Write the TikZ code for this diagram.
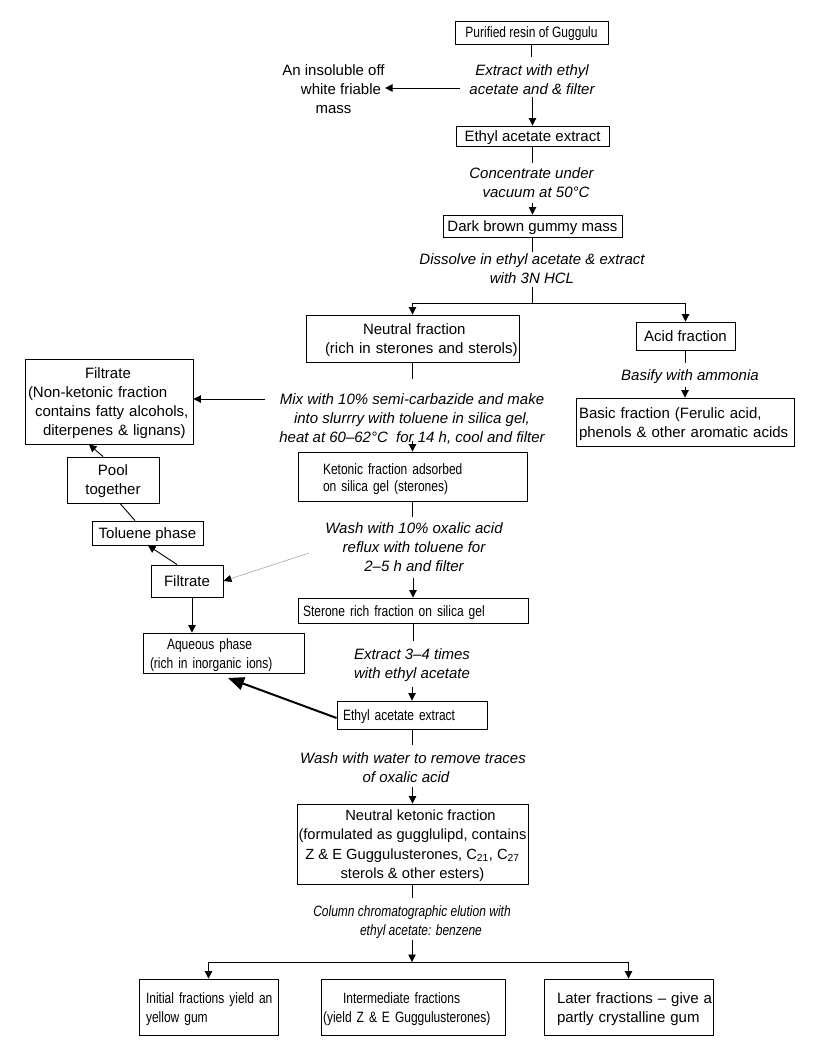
\documentclass[tikz,border=0pt]{standalone}
\usepackage{fontspec}
\setmainfont{Liberation Sans}
\newfontfamily\narrowfont{Liberation Sans}[FakeStretch=0.80]
\usetikzlibrary{arrows.meta}
\newcommand\fs{\fontsize{15}{19}\selectfont}
\newcommand\ind[1]{\hspace*{#1pt}}
\newcommand\tp{\rule{0pt}{15pt}}
\begin{document}
\begin{tikzpicture}[x=1pt,y=-1pt,
  line width=0.9pt,
  arr/.style={-{Triangle[length=7.5pt,width=7.5pt]}},
  bx/.style={draw, inner sep=0pt, font=\fs, align=center, text depth=0pt},
  nbx/.style={bx, font=\fs\narrowfont},
  lbx/.style={draw, inner sep=0pt, font=\fs, align=left},
  nlbx/.style={lbx, font=\fs\narrowfont},
  lbl/.style={inner sep=0pt, align=center, font=\fs\itshape, text depth=0pt},
  nlbl/.style={lbl, font=\fs\narrowfont\itshape},
  txt/.style={inner sep=0pt, align=center, font=\fs, text depth=0pt}
]
\useasboundingbox (0,0) rectangle (823,1052);

% ---- nodes ----
\node[nbx, minimum width=153pt, minimum height=23pt] (res) at (531.5,32.5) {Purified resin of Guggulu};
\node[lbl] (l1) at (532,79.5) {Extract with ethyl\\acetate and \& filter};
\node[txt] (ins) at (333.5,89) {An insoluble off\\\ind{15}white friable\\mass};
\node[bx, minimum width=153pt, minimum height=20pt] (eae1) at (532.5,136) {Ethyl acetate extract};
\node[lbl] (l2) at (531.5,183) {Concentrate under\\\ind{9}vacuum at 50°C};
\node[bx, minimum width=179pt, minimum height=22pt] (dbgm) at (532.5,226) {Dark brown gummy mass};
\node[lbl] (l3) at (532,268.5) {Dissolve in ethyl acetate \& extract\\with 3N HCL};
\node[lbx, text width=213pt, minimum height=47pt] (neut) at (412.5,338.5) {\tp\ind{57}Neutral fraction\\\ind{19}(rich in sterones and sterols)};
\node[bx, minimum width=99pt, minimum height=28pt] (acid) at (685.5,336) {Acid fraction};
\node[lbl] (l5) at (690,375) {Basify with ammonia};
\node[lbx, text width=218pt, minimum height=48pt] (basic) at (685,422) {\tp\ind{3}Basic fraction (Ferulic acid,\\\ind{3}phenols \& other aromatic acids};
\node[lbl] (l4) at (412,418.5) {Mix with 10\% semi-carbazide and make\\into slurrry with toluene in silica gel,\\heat at 60–62°C\ \ for 14 h, cool and filter};
\node[lbx, text width=168pt, minimum height=85pt] (filt1) at (109,401.5) {\tp\ind{60}Filtrate\\\ind{3}(Non-ketonic fraction\\\ind{10}contains fatty alcohols,\\\ind{18}diterpenes \& lignans)};
\node[nlbx, text width=229pt, minimum height=49pt] (keto) at (412.5,476.5) {\rule{0pt}{16pt}\ind{25}Ketonic fraction adsorbed\\[-1.5pt]\ind{25}on silica gel (sterones)};
\node[bx, minimum width=92pt, minimum height=46pt] (pool) at (113,480) {Pool\\together};
\node[bx, minimum width=111pt, minimum height=24pt] (tol) at (147.5,533) {Toluene phase};
\node[lbl] (l6) at (414,547) {Wash with 10\% oxalic acid\\reflux with toluene for\\2–5 h and filter};
\node[bx, minimum width=72pt, minimum height=32pt] (filt2) at (187,581) {Filtrate};
\node[nlbx, text width=230pt, minimum height=25pt] (ster) at (413,610.5) {\tp\ind{5}Sterone rich fraction on silica gel};
\node[nlbx, text width=161pt, minimum height=40pt] (aq) at (223.5,653) {\tp\ind{24}Aqueous phase\\\ind{7}(rich in inorganic ions)};
\node[lbl] (l7) at (412,663.5) {Extract 3–4 times\\with ethyl acetate};
\node[nlbx, text width=150pt, minimum height=28pt] (eae2) at (412,715) {\tp\ind{6}Ethyl acetate extract};
\node[lbl] (l8) at (413,767.5) {Wash with water to remove traces\\of oxalic acid\ind{14}};
\node[bx, minimum width=231pt, minimum height=80pt, font=\fontsize{14.7}{19.5}\selectfont] (nk) at (412.5,844) {\ind{16}Neutral ketonic fraction\\(formulated as gugglulipd, contains\\Z \& E Guggulusterones, C\textsubscript{21}, C\textsubscript{27}\\sterols \& other esters)};
\node[nlbl] (l9) at (412,920.5) {Column chromatographic elution with\\\ind{18}ethyl acetate: benzene};
\node[nlbx, text width=139pt, minimum height=56pt] (f1) at (208.5,1007) {\tp\ind{7}Initial fractions yield an\\\ind{7}yellow gum};
\node[nlbx, text width=184pt, minimum height=56pt] (f2) at (413,1007) {\tp\ind{22}Intermediate fractions\\\ind{2}(yield Z \& E Guggulusterones)};
\node[lbx, text width=169pt, minimum height=56pt] (f3) at (628.5,1007) {\tp\ind{13}Later fractions – give a\\\ind{13}partly crystalline gum};

% ---- free ends ----
\coordinate (c1) at (460,88);
\coordinate (s1) at (532.5,287);
\coordinate (j1) at (532.5,303);
\coordinate (c2) at (265,399);
\coordinate (c3) at (309,553);
\coordinate (c4) at (228,678);
\coordinate (s2) at (412,940);
\coordinate (j2) at (412,962);

% ---- connectors ----
\draw (res.south) -- ++(0,13);
\draw[arr] ([yshift=29pt]eae1.north) -- (eae1.north);
\draw[arr] (c1) -- (c1 -| ins.east);
\draw (eae1.south) -- ++(0,17);
\draw[arr] ([yshift=12pt]dbgm.north) -- (dbgm.north);
\draw (dbgm.south) -- ++(0,15);
\draw (s1) -- (j1);
\draw (neut.north |- j1) -- (acid.north |- j1);
\draw[arr] (neut.north |- j1) -- (neut.north);
\draw[arr] (acid.north |- j1) -- (acid.north);
\draw (neut.south) -- ++(0,17);
\draw[arr] ([yshift=11pt]keto.north) -- (keto.north);
\draw[arr] (c2) -- (c2 -| filt1.east);
\draw (acid.south) -- ++(0,13);
\draw[arr] ([yshift=11pt]basic.north) -- (basic.north);
\draw (keto.south) -- ++(0,16);
\draw[arr] ([yshift=20pt]ster.north) -- (ster.north);
\draw[gray!70, line width=0.6pt, -{Triangle[length=8pt,width=7pt,black]}] (c3) -- (filt2.east);
\draw (ster.south) -- ++(0,18);
\draw[arr] ([yshift=14pt]eae2.north) -- (eae2.north);
\draw[line width=2pt, -{Triangle[length=16pt,width=13pt]}] ([yshift=-3pt]eae2.west) -- (c4);
\draw[arr] ([xshift=-10pt]pool.north) -- ([xshift=-20pt]filt1.south);
\draw ([xshift=7pt]pool.south) -- ([xshift=-12.5pt]tol.north);
\draw[arr] ([xshift=-10pt]filt2.north) -- ([xshift=0.5pt]tol.south);
\draw[arr] ([xshift=5pt]filt2.south) -- ([xshift=5pt]filt2.south |- aq.north);
\draw (eae2.south) -- ++(0,16);
\draw[arr] ([yshift=17pt]nk.north) -- (nk.north);
\draw (nk.south) -- ++(0,14);
\draw[arr] (s2) -- (j2);
\draw (f1.north |- j2) -- (f3.north |- j2);
\draw[arr] (f1.north |- j2) -- (f1.north);
\draw[arr] (f3.north |- j2) -- (f3.north);
\end{tikzpicture}
\end{document}
